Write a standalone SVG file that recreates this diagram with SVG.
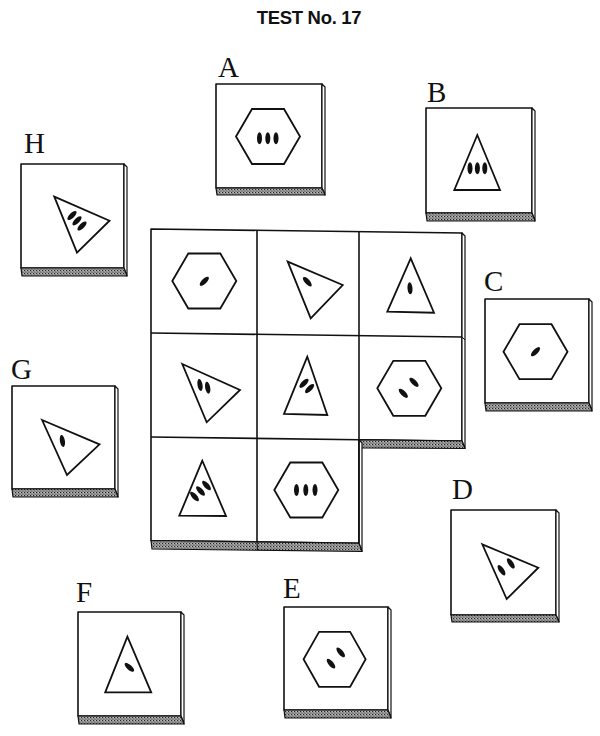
<svg xmlns="http://www.w3.org/2000/svg" xmlns:xlink="http://www.w3.org/1999/xlink" width="600" height="736" viewBox="0 0 600 736">
<style>
.face{fill:#fff;stroke:#111;stroke-width:1.6;stroke-linejoin:round}
.side{fill:#fff;stroke:#111;stroke-width:1.2;stroke-linejoin:round}
.base{fill:url(#stip);stroke:#111;stroke-width:1.2;stroke-linejoin:round}
.shape{fill:#fff;stroke:#111;stroke-width:1.8;stroke-linejoin:miter}
.mk{fill:#111}
.lbl{font-family:"Liberation Serif","Times New Roman",serif;font-size:29px;fill:#111}
.title{font-family:"Liberation Sans",Arial,sans-serif;font-size:18.5px;font-weight:bold;fill:#111;letter-spacing:-0.3px}
.grid{fill:none;stroke:#111;stroke-width:1.6}
</style>
<defs>
<pattern id="stip" width="3" height="3" patternUnits="userSpaceOnUse">
<rect width="3" height="3" fill="#9a9a9a"/>
<rect x="0" y="0" width="1" height="1" fill="#222"/>
<rect x="1.5" y="1.5" width="1" height="1" fill="#333"/>
<rect x="2" y="0.5" width="0.8" height="0.8" fill="#eee"/>
</pattern>
<polygon id="hex" points="-32,0 -16,-27.5 16,-27.5 32,0 16,27.5 -16,27.5"/>
<ellipse id="m" rx="2.5" ry="6"/>
</defs>
<rect width="600" height="736" fill="#fff"/>
<text class="title" x="309" y="24" text-anchor="middle">TEST No. 17</text>

<g id="connectors"/>

<g id="matrix">
<path class="face" d="M151,229 L462,233 L462,441 L359,439.7 L359,543.2 L151,540.5 Z"/>
<polygon class="side" points="462,233 465,236 465,448.5 462,441"/>
<line x1="462" y1="337" x2="465" y2="340" stroke="#111" stroke-width="1"/>
<polygon class="base" points="359,439.7 462,441 465,448.5 361,447.8"/>
<polygon class="side" points="359,439.7 362,443 362,551.5 359,543.2"/>
<polygon class="base" points="151,540.5 359,543.2 362,551.5 152,549"/>
<line x1="257" y1="541.9" x2="257.5" y2="550" stroke="#111" stroke-width="1"/>
<line class="grid" x1="257" y1="230.4" x2="257" y2="541.9"/>
<line class="grid" x1="359" y1="231.7" x2="359" y2="543.2"/>
<line class="grid" x1="151" y1="333" x2="462" y2="337"/>
<line class="grid" x1="151" y1="437" x2="359" y2="439.7"/>

<g id="cell-1-1">
<use href="#hex" class="shape" transform="translate(204.3,281)"/>
<use href="#m" class="mk" transform="translate(204.3,281.3) rotate(45)"/>
</g>
<g id="cell-1-2">
<polygon class="shape" points="287.7,261.7 342.7,285 310.7,318.3"/>
<use href="#m" class="mk" transform="translate(307.3,281.7) rotate(-42)"/>
</g>
<g id="cell-1-3">
<polygon class="shape" points="410.7,258.3 387.3,311.7 434,312.7"/>
<use href="#m" class="mk" transform="translate(410,288.3) rotate(-4)"/>
</g>
<g id="cell-2-1">
<polygon class="shape" points="182.3,364 240,390 206.7,422.3"/>
<use href="#m" class="mk" transform="translate(200,385) rotate(-10)"/>
<use href="#m" class="mk" transform="translate(207.7,387.7) rotate(-10)"/>
</g>
<g id="cell-2-2">
<polygon class="shape" points="307.3,356.7 284,414 327.3,415"/>
<use href="#m" class="mk" transform="translate(304,383.3) rotate(45)"/>
<use href="#m" class="mk" transform="translate(309.6,388.6) rotate(45)"/>
</g>
<g id="cell-2-3">
<use href="#hex" class="shape" transform="translate(409.3,388.3)"/>
<use href="#m" class="mk" transform="translate(414,382.3) rotate(-45)"/>
<use href="#m" class="mk" transform="translate(403.3,393.3) rotate(-45)"/>
</g>
<g id="cell-3-1">
<polygon class="shape" points="202.3,460.7 179.3,515.7 226,516"/>
<use href="#m" class="mk" transform="translate(194.5,496.5) rotate(-42)"/>
<use href="#m" class="mk" transform="translate(200.5,491) rotate(-42)"/>
<use href="#m" class="mk" transform="translate(206.5,485.5) rotate(-42)"/>
</g>
<g id="cell-3-2">
<use href="#hex" class="shape" transform="translate(306.3,490)"/>
<use href="#m" class="mk" transform="translate(296.5,490)"/>
<use href="#m" class="mk" transform="translate(305.8,490)"/>
<use href="#m" class="mk" transform="translate(315,490)"/>
</g>
</g>

<g id="option-A">
<text class="lbl" x="218" y="77">A</text>
<rect class="face" x="216" y="84" width="106" height="104"/>
<polygon class="side" points="322,84 325,87 325,195 322,188"/>
<polygon class="base" points="216,188 322,188 325,195 217,195"/>
<use href="#hex" class="shape" transform="translate(268,136.5)"/>
<use href="#m" class="mk" transform="translate(259.5,138.3)"/>
<use href="#m" class="mk" transform="translate(267.8,138.3)"/>
<use href="#m" class="mk" transform="translate(276,138.3)"/>
</g>

<g id="option-B">
<text class="lbl" x="427" y="102">B</text>
<rect class="face" x="426" y="108" width="106" height="105"/>
<polygon class="side" points="532,108 535,111 535,221 532,213"/>
<polygon class="base" points="426,213 532,213 535,221 427,221"/>
<polygon class="shape" points="477.3,135 454.3,190 500,190"/>
<use href="#m" class="mk" transform="translate(470,168.3)"/>
<use href="#m" class="mk" transform="translate(477.4,168.3)"/>
<use href="#m" class="mk" transform="translate(484.8,168.3)"/>
</g>

<g id="option-C">
<text class="lbl" x="484" y="291">C</text>
<rect class="face" x="485" y="299" width="104" height="104"/>
<polygon class="side" points="589,299 592,302 592,411 589,403"/>
<polygon class="base" points="485,403 589,403 592,411 486,411"/>
<use href="#hex" class="shape" transform="translate(535.5,351.7)"/>
<use href="#m" class="mk" transform="translate(535.5,351.7) rotate(45)"/>
</g>

<g id="option-D">
<text class="lbl" x="452" y="498.5">D</text>
<rect class="face" x="451" y="510" width="105" height="105"/>
<polygon class="side" points="556,510 559,513 559,622 556,615"/>
<polygon class="base" points="451,615 556,615 559,622 452,622"/>
<polygon class="shape" points="482.3,544.3 538.3,567.7 506.7,599"/>
<use href="#m" class="mk" transform="translate(501.5,570.2) rotate(-34)"/>
<use href="#m" class="mk" transform="translate(510.8,563.4) rotate(-34)"/>
</g>

<g id="option-E">
<text class="lbl" x="283" y="597.5">E</text>
<rect class="face" x="284" y="607" width="104" height="103"/>
<polygon class="side" points="388,607 391,610 391,718 388,710"/>
<polygon class="base" points="284,710 388,710 391,718 285,718"/>
<use href="#hex" class="shape" transform="translate(334.6,659.3) scale(0.97,1)"/>
<use href="#m" class="mk" transform="translate(331,663.7) rotate(-40)"/>
<use href="#m" class="mk" transform="translate(340.7,652.3) rotate(-40)"/>
</g>

<g id="option-F">
<text class="lbl" x="76" y="601.5">F</text>
<rect class="face" x="78" y="612" width="103" height="104"/>
<polygon class="side" points="181,612 184,615 184,724 181,716"/>
<polygon class="base" points="78,716 181,716 184,724 79,724"/>
<polygon class="shape" points="127.4,636.7 105.2,692.3 151.2,692.3"/>
<use href="#m" class="mk" transform="translate(129.4,667.3) rotate(-48)"/>
</g>

<g id="option-G">
<text class="lbl" x="11" y="378.5">G</text>
<rect class="face" x="12" y="386" width="103" height="103"/>
<polygon class="side" points="115,386 118,389 118,497 115,489"/>
<polygon class="base" points="12,489 115,489 118,497 13,497"/>
<polygon class="shape" points="42.1,420 99.5,444.3 67,475"/>
<use href="#m" class="mk" transform="translate(62.4,441) rotate(-10)"/>
</g>

<g id="option-H">
<text class="lbl" x="24" y="152.5">H</text>
<rect class="face" x="21" y="164" width="103" height="104"/>
<polygon class="side" points="124,164 127,167 127,276 124,268"/>
<polygon class="base" points="21,268 124,268 127,276 22,276"/>
<polygon class="shape" points="54.3,196.7 109.5,220.7 77,252.7"/>
<use href="#m" class="mk" transform="translate(72,215.5) rotate(45)"/>
<use href="#m" class="mk" transform="translate(77,220.8) rotate(45)"/>
<use href="#m" class="mk" transform="translate(82,226) rotate(45)"/>
</g>
</svg>
